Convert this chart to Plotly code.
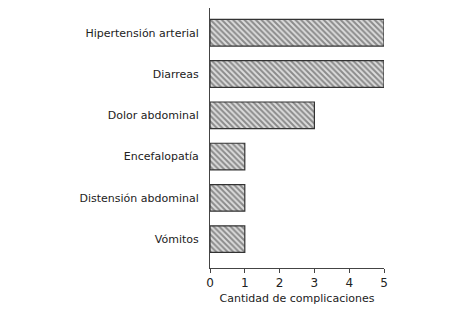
import plotly.graph_objects as go

categories = ["Vómitos", "Distensión abdominal", "Encefalopatía",
              "Dolor abdominal", "Diarreas", "Hipertensión arterial"]
values = [1, 1, 1, 3, 5, 5]
x_ticks = [0, 1, 2, 3, 4, 5]

fig = go.Figure(go.Bar(
    x=values, y=categories, orientation="h",
    marker=dict(
        color="#e8e8e8",
        line=dict(color="#333333", width=1.2),
        pattern=dict(shape="\\", fgcolor="#3a3a3a", bgcolor="#dcdcdc", size=4, solidity=0.5),
    ),
))

fig.update_layout(
    width=475, height=310,
    margin=dict(l=210, r=91, t=8, b=38),
    paper_bgcolor="white", plot_bgcolor="white",
    bargap=0.355,
    showlegend=False,
    font=dict(family="DejaVu Sans", size=11, color="#222222"),
)
fig.update_xaxes(
    range=[0, 5], tickvals=x_ticks, ticks="outside", ticklen=4, tickcolor="#444444",
    showline=True, linecolor="#444444", linewidth=1, showgrid=False, zeroline=False,
    title=dict(text="Cantidad de complicaciones", standoff=4, font=dict(size=11)),
    tickfont=dict(size=12),
)
fig.update_yaxes(
    range=[-0.7, 5.6], showline=True, linecolor="#444444", linewidth=1,
    showgrid=False, zeroline=False, ticks="", ticklabelstandoff=8,
    tickfont=dict(size=11),
)

fig.write_html("out.html")
